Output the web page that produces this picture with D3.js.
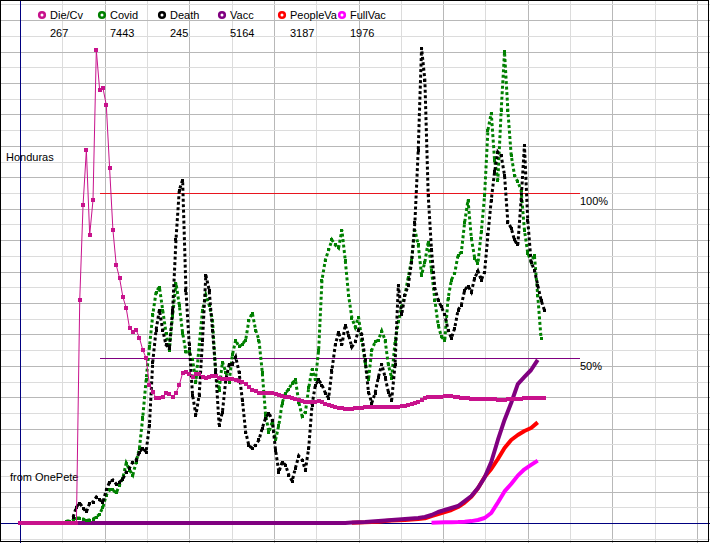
<!DOCTYPE html>
<html lang="en">
<head>
<meta charset="UTF-8">
<title>Honduras</title>
<style>
  body { margin: 0; background: #fff; }
  svg { display: block; font-family: Arial, "Liberation Sans", sans-serif; font-size: 11px; }
</style>
</head>
<body>
<svg id="chart" width="710" height="543"></svg>
<script src="https://d3js.org/d3.v7.min.js"></script>
<script>
const W = 710, H = 543;

// legend
const legendNames = ["Die/Cv", "Covid", "Death", "Vacc", "PeopleVa", "FullVac"];
const legendValues = [267, 7443, 245, 5164, 3187, 1976];
const colors = ["#c8128c", "#008000", "#000000", "#800080", "#ff0000", "#ff00ff"];

// time axis: days since 2020-01-22
const startDate = new Date(2020, 0, 22);
const lastDay = 816;
const gridDays = 51;

// daily series, one value every 4 days, in % of chart height
const dailyStep = 4;
const dieCvStart = 0;
const dieCv = [0, 0, 0, 0, 0, 0, 0, 0, 0, 0, 0, 0, 0, 0, 0, 0, 0, 0,
  44.6, 63.6, 74.6, 57.6, 64.6, 94.6, 86.6, 87, 83.6, 71, 58.6, 51.6, 49, 45.2, 43, 39, 38.2, 38.6,
  37, 34.6, 33, 27.6, 26.2, 25, 25, 25.2, 26, 25.8, 25.2, 26, 27.6, 30, 30.2, 29.8, 29.2, 29.8,
  29.8, 29.2, 29, 29.2, 29.4, 29.4, 29, 28.8, 28.8, 28.8, 28.8, 28.6, 28.4, 28.2, 27.8, 27.2,
  26.6, 26.4, 26, 26, 26, 26, 26, 25.8, 25.6, 25.4, 25.2, 25.2, 25, 24.8, 24.6, 24.4,
  24.2, 24.2, 24.2, 24.2, 24.4, 24.2, 23.8, 23.6, 23.4, 23.2, 23, 23, 22.8, 22.8, 22.8,
  23, 23, 23, 23.2, 23.2, 23.2, 23.2, 23.2, 23.2, 23.2, 23.2, 23.2, 23.2, 23.2,
  23.4, 23.4, 23.6, 23.8, 24, 24.2, 24.6, 25, 25.2, 25.2, 25.2, 25.2, 25.2,
  25.4, 25.4, 25.4, 25.2, 25.2, 25, 25, 25, 24.8, 24.8, 24.8, 24.8, 24.8, 24.8, 24.8, 24.8,
  24.6, 24.6, 24.6, 24.8, 24.8, 24.8, 24.8, 24.8, 25, 25, 25, 25, 25, 25, 25];

const covidStart = 56;
const covid = [0.4, 0.4, 0.6, 1, 1, 0.8, 0.6, 0.6, 0.8, 1.2,
  1.8, 3.2, 5.6, 6.6, 6.6, 6, 7.6, 9, 12, 10.6,
  9.6, 12.2, 15, 21.2, 28.6, 35.2, 41.6, 46.2, 47.2, 42.6,
  38, 34.6, 41.6, 48, 43.6, 38, 34.2, 34.2, 32.6, 28.2,
  35.6, 42.6, 45.6, 43.6, 40.6, 29.6, 26.6, 32.2, 30.2, 28.2,
  33.6, 36.6, 35.2, 35.8, 36.6, 40.6, 42, 38.6, 36.6, 30.2,
  21.6, 18.2, 20.2, 16.6, 19.6, 24, 26, 26.8, 28, 28.6,
  24.2, 21.4, 22.2, 27, 30.8, 28.6, 34.6, 48.6, 52.6, 54.6,
  56.6, 55.6, 55, 58.6, 52.6, 45.6, 41, 39.2, 41.2, 36.6,
  32, 28.6, 34.6, 36.2, 36.6, 38.4, 36.6, 31.6, 29, 36.2,
  40.2, 43.2, 45.6, 49.2, 52.6, 58.6, 55.6, 49.6, 52.2, 56.2,
  50.6, 44.6, 39.6, 37.2, 36.6, 45, 48.6, 50, 53.6, 54.2,
  60.2, 64.6, 57, 53, 52, 58.2, 65.6, 78.6, 82, 72.6,
  68.6, 82.6, 94.2, 82.6, 73.6, 69.6, 68.2, 66.6, 58.6, 54,
  52.2, 53.6, 45.6, 37];

const deathStart = 64;
const death = [1.2, 3.2, 4, 3, 2.2, 4, 4.2, 5.2, 4.6, 4.2,
  6.6, 8.2, 8.6, 7.8, 8.2, 8.8, 10.2, 11, 12.2, 12.6,
  14.2, 15, 14.2, 19.6, 32.2, 38.6, 42.6, 38.6, 35.6, 35,
  42.6, 56.6, 66.6, 68.6, 46.6, 35.6, 25.6, 21.6, 25.6, 36.6,
  49.6, 46.6, 38.6, 30.2, 19.6, 22.2, 28.6, 31.6, 31.8, 33.2,
  30.2, 24.6, 18.2, 15.4, 15, 15.6, 16.6, 19, 21, 22,
  20.6, 14.6, 10.2, 12.2, 11.6, 9.6, 8.4, 11, 13.4, 12.6,
  10.6, 15, 23.6, 27.6, 28.6, 27.6, 26, 25, 30.6, 35.6,
  38.2, 35.6, 39.6, 37.6, 35.2, 36.2, 38.6, 37.8, 32.6, 26.2,
  24, 26, 29.2, 31.8, 29.2, 26.2, 24.6, 31.6, 47.6, 41.6,
  45.6, 47.6, 52.2, 60.2, 74.6, 95, 88.6, 65.6, 54.6, 47,
  44.6, 43.2, 41.6, 38.6, 37, 39, 42.6, 43.6, 46.6, 47.4,
  46.2, 49, 50.4, 48.6, 50.2, 57.6, 64.6, 70.2, 74.2, 73.4,
  69.6, 60.2, 59, 56.6, 55.6, 64.6, 75.6, 60.6, 52.2, 50.6,
  47.6, 44.6, 42.6];

// vaccinations, thousands, one value every 8 days
const vaccStep = 8;
const population = 10450;
const vaccStart = 0;
const vacc = [0, 0, 0, 0, 0, 0, 0, 0, 0, 0, 0, 0, 0, 0, 0, 0, 0, 0, 0, 0, 0, 0, 0, 0, 0,
  0, 0, 0, 0, 0, 0, 0, 0, 0, 0, 0, 0, 0, 0, 0, 0, 0, 0, 0, 0, 0, 0, 0, 0, 0,
  16, 24, 32, 48, 63, 80, 95, 110, 127, 142, 158, 190, 253, 348, 412, 475, 538, 697, 855,
  1108, 1440, 1932, 2629, 3263, 3800, 4400, 4624, 4845, 5164];
const peopleStart = 400;
const peopleVa = [10, 15, 20, 30, 40, 60, 80, 90, 95, 110, 127, 150, 222, 285, 348, 412, 507,
  650, 830, 1100, 1457, 1710, 2027, 2375, 2629, 2787, 2914, 3009, 3187];
const fullStart = 496;
const fullVac = [10, 15, 20, 25, 30, 40, 60, 95, 158, 317, 650, 1000, 1235, 1500, 1700, 1840, 1976];

const refLevels = [1, 0.5];
const refLabels = ["100%", "50%"];
const refColors = ["#e8141e", "#800080"];

// ---------------------------------------------------------------
const svg = d3.select("#chart");
const day = d => d3.timeDay.offset(startDate, d);

const x = d3.scaleTime().domain([startDate, day(lastDay)]).range([20, 697]);
const rel = d3.scaleLinear().domain([0, 100]).range([523, 23]);
const pop = d3.scaleLinear().domain([0, population]).range([523, 193]);

function series(values, start, step) {
  return values.map((v, i) => ({ date: day(start + i * step), v }));
}

// grid
const grid = svg.append("g").attr("shape-rendering", "crispEdges");
d3.range(0, lastDay + 1, gridDays).forEach((d, k) => {
  const gx = Math.round(x(day(d))) + 0.5;
  grid.append("line").attr("x1", gx).attr("x2", gx).attr("y1", 0).attr("y2", H)
    .attr("stroke", k % 2 ? "#dcdcdc" : "#b8b8b8");
});
const hStep = 66 / 21;
d3.range(-1, 34).forEach(k => {
  const gy = Math.round(rel(k * hStep)) + 0.5;
  grid.append("line").attr("x1", 0).attr("x2", W).attr("y1", gy).attr("y2", gy)
    .attr("stroke", Math.abs(k) % 2 ? "#dcdcdc" : "#b8b8b8");
});

// axes
grid.append("line").attr("x1", 20.5).attr("x2", 20.5).attr("y1", 0).attr("y2", H).attr("stroke", "#000080");
grid.append("line").attr("x1", 0).attr("x2", W).attr("y1", 523.5).attr("y2", 523.5).attr("stroke", "#000080");

// reference lines (filled 1px bands)
refLevels.forEach((r, i) => {
  const ry = Math.round(pop(population * r));
  svg.append("rect").attr("x", 100).attr("y", ry).attr("width", 480).attr("height", 1)
    .style("fill", refColors[i]).attr("shape-rendering", "crispEdges");
  svg.append("text").attr("x", 580).attr("y", ry + 12).text(refLabels[i]);
});

// side texts
svg.append("text").attr("x", 6).attr("y", 161).text("Honduras");
svg.append("text").attr("x", 10).attr("y", 481).text("from OnePete");

// vaccination lines
const vline = d3.line().x(d => x(d.date)).y(d => pop(d.v));
[[fullVac, fullStart, 5], [peopleVa, peopleStart, 4], [vacc, vaccStart, 3]].forEach(([vals, st, ci]) => {
  svg.append("path").datum(series(vals, st, vaccStep))
    .attr("d", vline).attr("fill", "none").attr("stroke", colors[ci])
    .attr("stroke-width", 4).attr("stroke-linejoin", "round");
});

// dotted daily series: dashed trace through the samples plus a square at each one
const dline = d3.line().x(d => x(d.date)).y(d => rel(d.v));
function dots(vals, st, color, size) {
  svg.append("g").attr("fill", color).attr("shape-rendering", "crispEdges")
    .selectAll("rect").data(series(vals, st, dailyStep)).join("rect")
    .attr("x", d => Math.round(x(d.date) - size / 2))
    .attr("y", d => Math.round(rel(d.v) - size / 2))
    .attr("width", size).attr("height", size);
}
function dotted(vals, st, color) {
  svg.append("path").datum(series(vals, st, dailyStep))
    .attr("d", dline).attr("fill", "none").attr("stroke", color)
    .attr("stroke-width", 3).attr("stroke-dasharray", "3 2.5");
  dots(vals, st, color, 3);
}
dotted(covid, covidStart, colors[1]);
dotted(death, deathStart, colors[2]);

// Die/Cv line with markers
svg.append("path").datum(series(dieCv, dieCvStart, dailyStep))
  .attr("d", dline).attr("fill", "none").attr("stroke", colors[0]).attr("stroke-width", 1);
dots(dieCv, dieCvStart, colors[0], 4);

// legend
const lg = svg.append("g");
legendNames.forEach((n, i) => {
  const lx = 42 + i * 60;
  lg.append("circle").attr("cx", lx).attr("cy", 15).attr("r", 2.8)
    .attr("fill", "#fff").attr("stroke", colors[i]).attr("stroke-width", 2.6);
  lg.append("text").attr("x", lx + 8).attr("y", 19).text(n);
  lg.append("text").attr("x", lx + 8).attr("y", 37).text(legendValues[i]);
});

// frame
svg.append("rect").attr("x", 0.5).attr("y", 0.5).attr("width", W - 2).attr("height", H - 2)
  .attr("fill", "none").attr("stroke", "#000").attr("shape-rendering", "crispEdges");
</script>
</body>
</html>
